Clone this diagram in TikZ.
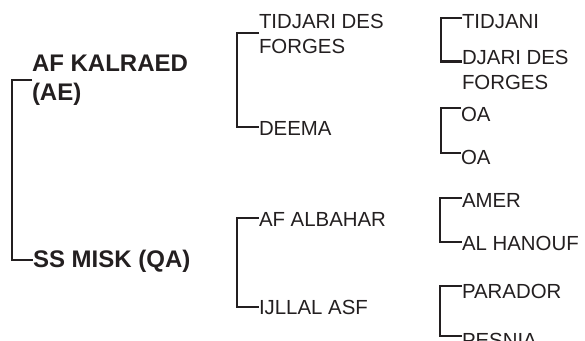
\documentclass[tikz,border=0pt]{standalone}
\usepackage{fontspec}
\setmainfont{Liberation Sans}
\definecolor{ink}{HTML}{231F20}
\begin{document}
\begin{tikzpicture}[x=1pt,y=-1pt,
  lbl/.style={inner sep=0pt,outer sep=0pt,text=ink,anchor=base west,font=\fontsize{20.4}{24.5}\selectfont},
  lbl2/.style={lbl,anchor=north west,align=left},
  blbl/.style={lbl,font=\fontsize{24}{28.8}\selectfont\bfseries},
  blbl2/.style={blbl,anchor=north west,align=left},
  brk/.style={draw=ink,line width=2.4pt,line join=miter}]
\useasboundingbox (0,0) rectangle (585,340);
\clip (0,0) rectangle (585,340);
% root column
\node[blbl2] (kal) at (32,55) {AF KALRAED\\(AE)};
\node[blbl] (misk) at (33,267) {SS MISK (QA)};
% middle column
\node[lbl2] (tid) at (259,14.5) {TIDJARI DES\\FORGES};
\node[lbl] (deema) at (259,135) {DEEMA};
\node[lbl] (alb) at (259,226) {AF ALBAHAR};
\node[lbl] (ijl) at (259,314) {IJLLAL ASF};
% right column
\node[lbl] (tidj) at (462,28) {TIDJANI};
\node[lbl2] (djari) at (462,50.5) {DJARI DES\\FORGES};
\node[lbl] (oa1) at (461,121) {OA};
\node[lbl] (oa2) at (461,164) {OA};
\node[lbl] (amer) at (462,207) {AMER};
\node[lbl] (hanouf) at (462,250) {AL HANOUF};
\node[lbl] (parador) at (462,298) {PARADOR};
\node[lbl] (pesnia) at (462,347) {PESNIA};
% brackets
\draw[brk] ([yshift=-25pt]kal.north west) -- ++(-20,0) |- ([yshift=7pt]misk.base west);
\draw[brk] ([yshift=-18.5pt]tid.north west) -- ++(-22,0) |- ([yshift=8pt]deema.base west);
\draw[brk] ([yshift=8pt]alb.base west) -- ++(-22,0) |- ([yshift=7pt]ijl.base west);
\draw[brk] ([yshift=10pt]tidj.base west) -- ++(-21,0) |- ([yshift=-11pt]djari.north west);
\draw[brk] ([yshift=13pt]oa1.base west) -- ++(-20,0) |- ([yshift=11pt]oa2.base west);
\draw[brk] ([yshift=9pt]amer.base west) -- ++(-22,0) |- ([yshift=8pt]hanouf.base west);
\draw[brk] ([yshift=12pt]parador.base west) -- ++(-22,0) |- ([yshift=11pt]pesnia.base west);
\end{tikzpicture}
\end{document}
